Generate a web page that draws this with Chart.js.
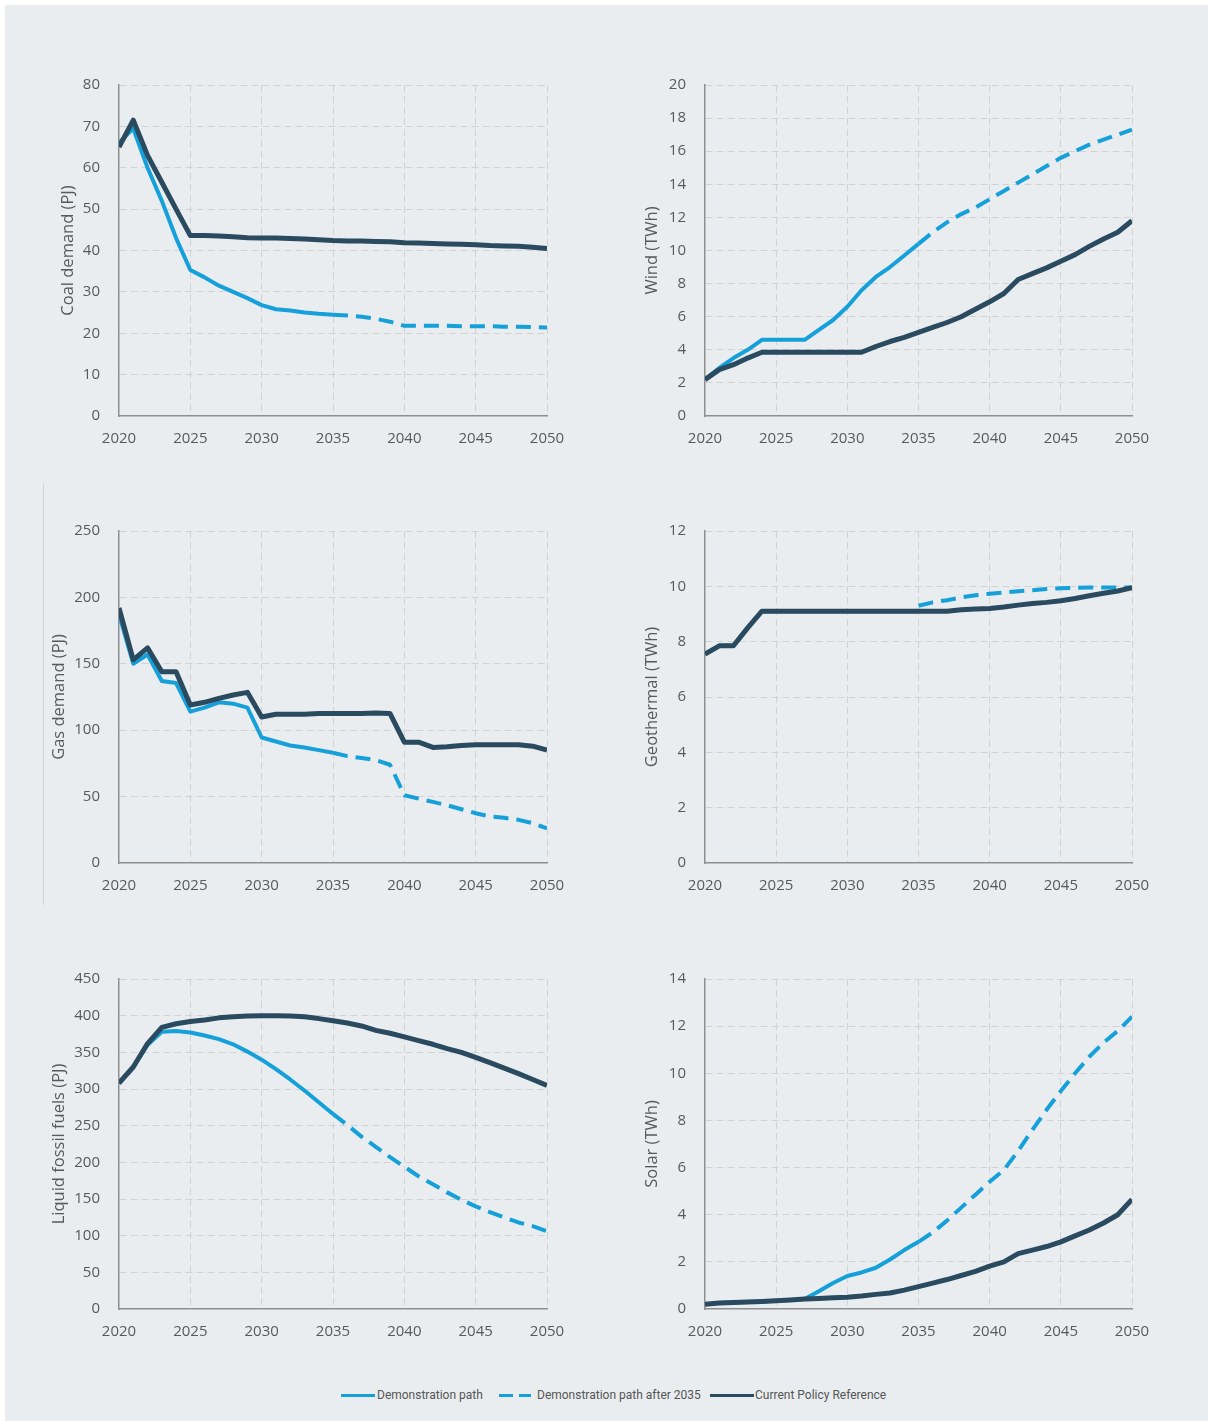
<!DOCTYPE html>
<html>
<head>
<meta charset="utf-8">
<script src="https://cdn.jsdelivr.net/npm/chart.js@4/dist/chart.umd.min.js"></script>
<style>
  body { margin: 0; background: #fff; width: 1208px; height: 1421px; overflow: hidden; font-family: 'Open Sans', sans-serif; }
  #panel { position: absolute; left: 5px; top: 5px; width: 1203px; height: 1416px; background: #e9edf0; }
  canvas { position: absolute; }
  #sep { position: absolute; left: 43px; top: 483px; width: 1px; height: 422px; background: #cfd4d8; }
  .leg { position: absolute; top: 1388px; font-family: 'Roboto', sans-serif; font-size: 12px; color: #555; line-height: 15px; white-space: nowrap; }
  .sw { position: absolute; height: 3px; top: 1394px; }
</style>
</head>
<body>
<div id="panel"></div>
<div id="sep"></div>
<canvas id="coal" width="548" height="390"></canvas>
<canvas id="wind" width="547" height="390"></canvas>
<canvas id="gas" width="548" height="392"></canvas>
<canvas id="geo" width="547" height="392"></canvas>
<canvas id="liquid" width="548" height="390"></canvas>
<canvas id="solar" width="547" height="390"></canvas>

<div class="sw" style="left:341px;width:34px;background:#16a0da"></div>
<div class="leg" style="left:377px">Demonstration path</div>
<div class="sw" style="left:499px;width:14px;background:#16a0da"></div>
<div class="sw" style="left:519px;width:12px;background:#16a0da"></div>
<div class="leg" style="left:537px">Demonstration path after 2035</div>
<div class="sw" style="left:710px;width:44px;background:#2a4a60"></div>
<div class="leg" style="left:755px">Current Policy Reference</div>

<script>
// years on the x axis
const years = [2020, 2021, 2022, 2023, 2024, 2025, 2026, 2027, 2028, 2029, 2030,
  2031, 2032, 2033, 2034, 2035, 2036, 2037, 2038, 2039, 2040,
  2041, 2042, 2043, 2044, 2045, 2046, 2047, 2048, 2049, 2050];
const demoYears = years.slice(0, 16);   // 2020-2035
const afterYears = years.slice(15);     // 2035-2050

// Coal demand (PJ)
const coalDemo = [66, 69.5, 60, 52, 43, 35.3, 33.5, 31.5, 30, 28.5, 26.8, 25.8, 25.5, 25, 24.7, 24.5];
const coalAfter = [24.5, 24.3, 24, 23.5, 22.8, 21.8, 21.8, 21.8, 21.8, 21.7, 21.7, 21.7, 21.6, 21.6, 21.5, 21.4];
const coalPolicy = [65, 71.5, 63, 56.5, 50, 43.6, 43.6, 43.5, 43.3, 43.1, 43, 43, 42.9, 42.8, 42.6, 42.4,
  42.3, 42.3, 42.2, 42.1, 41.9, 41.8, 41.7, 41.6, 41.5, 41.4, 41.2, 41.1, 41, 40.8, 40.5];

// Wind (TWh)
const windDemo = [2.2, 2.9, 3.5, 4.0, 4.6, 4.6, 4.6, 4.6, 5.2, 5.8, 6.6, 7.6, 8.4, 9.0, 9.7, 10.4];
const windAfter = [10.4, 11.1, 11.7, 12.2, 12.6, 13.1, 13.6, 14.1, 14.6, 15.1, 15.6, 16.0, 16.4, 16.7, 17.0, 17.3];
const windPolicy = [2.2, 2.8, 3.1, 3.5, 3.85, 3.85, 3.85, 3.85, 3.85, 3.85, 3.85, 3.85, 4.2, 4.5, 4.75, 5.05,
  5.35, 5.65, 6.0, 6.45, 6.9, 7.4, 8.25, 8.6, 8.95, 9.35, 9.75, 10.25, 10.7, 11.1, 11.8];

// Gas demand (PJ)
const gasDemo = [187, 150, 157, 137, 135.5, 114, 117, 121, 120, 117, 94.5, 91.5, 88.5, 87, 85, 83];
const gasAfter = [83, 80.5, 79, 77.5, 74, 51, 48.5, 46, 43.5, 40.5, 37.5, 35, 34, 32.5, 30, 26];
const gasPolicy = [192, 153, 162, 144, 144, 119, 121, 124, 126.5, 128.5, 110, 112, 112, 112, 112.5, 112.5,
  112.5, 112.5, 113, 112.5, 91, 91, 87, 87.5, 88.5, 89, 89, 89, 89, 88, 85];

// Geothermal (TWh)
const geoDemo = [7.55, 7.85, 7.85, 8.5, 9.1, 9.1, 9.1, 9.1, 9.1, 9.1, 9.1, 9.1, 9.1, 9.1, 9.1, 9.1];
const geoAfter = [9.3, 9.42, 9.5, 9.6, 9.68, 9.73, 9.78, 9.82, 9.86, 9.9, 9.93, 9.95, 9.96, 9.96, 9.96, 9.96];
const geoPolicy = [7.55, 7.85, 7.85, 8.5, 9.1, 9.1, 9.1, 9.1, 9.1, 9.1, 9.1, 9.1, 9.1, 9.1, 9.1, 9.1,
  9.1, 9.1, 9.15, 9.18, 9.2, 9.25, 9.32, 9.38, 9.42, 9.48, 9.56, 9.66, 9.75, 9.83, 9.95];

// Liquid fossil fuels (PJ)
const liquidDemo = [308, 330, 360, 378, 379, 377, 373, 368, 361, 351, 340, 327, 313, 298, 282, 266];
const liquidAfter = [266, 251, 235, 221, 207, 194, 181, 170, 159, 149, 140, 132, 125, 118, 113, 106];
const liquidPolicy = [308, 330, 362, 384, 389, 392, 394, 397, 398.5, 399.5, 400, 400, 399.5, 398.5, 396, 393,
  390, 386, 380, 376, 371, 366, 361, 355, 350, 343, 336, 328.5, 321, 313, 305];

// Solar (TWh)
const solarDemo = [0.2, 0.25, 0.28, 0.3, 0.32, 0.35, 0.38, 0.42, 0.75, 1.1, 1.4, 1.55, 1.75, 2.1, 2.5, 2.85];
const solarAfter = [2.85, 3.25, 3.75, 4.3, 4.85, 5.4, 5.9, 6.7, 7.6, 8.45, 9.25, 10.0, 10.7, 11.3, 11.8, 12.4];
const solarPolicy = [0.2, 0.25, 0.28, 0.3, 0.32, 0.35, 0.38, 0.42, 0.45, 0.48, 0.5, 0.55, 0.62, 0.68, 0.8, 0.95,
  1.1, 1.25, 1.42, 1.6, 1.82, 2.0, 2.35, 2.5, 2.65, 2.85, 3.1, 3.35, 3.65, 4.0, 4.65];

const BLUE = '#16a0da';
const DARK = '#2a4a60';

Chart.defaults.font.family = "'Open Sans', sans-serif";
Chart.defaults.color = '#595959';

const pts = (xs, ys) => xs.map((x, i) => ({ x: x, y: ys[i] }));

// plot area boxes (left, top, right, bottom) in page pixels
function makeChart(id, box, title, titleGap, yMax, yStep, demo, after, policy) {
  const [pl, pt, pr, pb] = box;
  const cv = document.getElementById(id);
  cv.style.left = (pl - 85) + 'px';
  cv.style.top = (pt - 15) + 'px';
  cv.width = (pr - pl) + 85 + 35;
  cv.height = (pb - pt) + 15 + 45;

  new Chart(cv, {
    type: 'line',
    data: {
      datasets: [
        { data: pts(years, policy), borderColor: DARK, borderWidth: 5, order: 0 },
        { data: pts(demoYears, demo), borderColor: BLUE, borderWidth: 4, order: 1 },
        { data: pts(afterYears, after), borderColor: BLUE, borderWidth: 4, borderDash: [15, 8], order: 2 }
      ]
    },
    options: {
      responsive: false,
      animation: false,
      layout: { padding: { top: 15, right: 35, left: 0, bottom: 0 } },
      elements: { point: { radius: 0 }, line: { tension: 0, borderCapStyle: 'butt', borderJoinStyle: 'round' } },
      plugins: { legend: { display: false }, tooltip: { enabled: false } },
      scales: {
        x: {
          type: 'linear', min: 2020, max: 2050,
          afterFit: s => { s.height = 45; },
          ticks: { stepSize: 5, padding: 14, font: { size: 15 }, color: '#595959', callback: v => String(v), maxRotation: 0 },
          grid: { drawTicks: false, color: c => c.tick && c.tick.value === 2020 ? 'rgba(0,0,0,0)' : '#d2d2d2', lineWidth: 1 },
          border: { display: true, color: '#8e8e8e', width: 1.5, dash: [7, 4] }
        },
        y: {
          min: 0, max: yMax,
          // fixed width; keep the label padding from pushing the plot top down
          afterFit: s => { s.width = 85; s.paddingTop = 9; s.paddingBottom = 9; },
          ticks: { stepSize: yStep, padding: 19, font: { size: 15 }, color: '#595959' },
          grid: { drawTicks: false, color: c => c.tick && c.tick.value === 0 ? 'rgba(0,0,0,0)' : '#d2d2d2', lineWidth: 1 },
          border: { display: true, color: '#8e8e8e', width: 1.5, dash: [7, 4] },
          title: { display: true, text: title, font: { size: 16.5 }, color: '#595959', padding: { top: 75 - titleGap, bottom: 0 } }
        }
      }
    }
  });
}

makeChart('coal',   [119, 85, 547, 416],  'Coal demand (PJ)',          51, 80, 10, coalDemo, coalAfter, coalPolicy);
makeChart('wind',   [705, 85, 1132, 416], 'Wind (TWh)',                53, 20, 2, windDemo, windAfter, windPolicy);
makeChart('gas',    [119, 531, 547, 863], 'Gas demand (PJ)',           60, 250, 50, gasDemo, gasAfter, gasPolicy);
makeChart('geo',    [705, 531, 1132, 863],'Geothermal (TWh)',          53, 12, 2, geoDemo, geoAfter, geoPolicy);
makeChart('liquid', [119, 979, 547, 1309],'Liquid fossil fuels (PJ)',  60, 450, 50, liquidDemo, liquidAfter, liquidPolicy);
makeChart('solar',  [705, 979, 1132, 1309],'Solar (TWh)',              53, 14, 2, solarDemo, solarAfter, solarPolicy);
</script>
</body>
</html>
